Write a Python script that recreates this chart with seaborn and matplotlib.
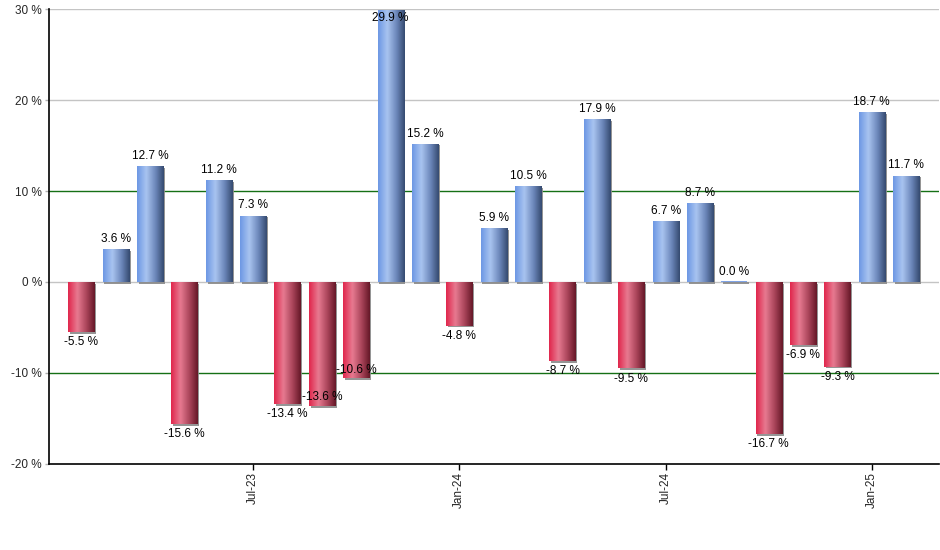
import numpy as np
import pandas as pd
import matplotlib
matplotlib.use("Agg")
import matplotlib.pyplot as plt
import matplotlib.patheffects as pe
from matplotlib.colors import LinearSegmentedColormap
import seaborn as sns

months = ["Feb-23", "Mar-23", "Apr-23", "May-23", "Jun-23", "Jul-23", "Aug-23", "Sep-23",
          "Oct-23", "Nov-23", "Dec-23", "Jan-24", "Feb-24", "Mar-24", "Apr-24", "May-24",
          "Jun-24", "Jul-24", "Aug-24", "Sep-24", "Oct-24", "Nov-24", "Dec-24", "Jan-25",
          "Feb-25"]
returns = [-5.5, 3.6, 12.7, -15.6, 11.2, 7.3, -13.4, -13.6, -10.6, 29.9, 15.2, -4.8,
           5.9, 10.5, -8.7, 17.9, -9.5, 6.7, 8.7, 0.0, -16.7, -6.9, -9.3, 18.7, 11.7]
tick_labels = ["Jul-23", "Jan-24", "Jul-24", "Jan-25"]
y_ticks = [-20, -10, 0, 10, 20, 30]

df = pd.DataFrame({"month": months, "ret": returns})
df["sign"] = np.where(df["ret"] >= 0, "pos", "neg")

sns.set_theme(style="white")
plt.rcParams["font.family"] = ["Liberation Sans", "DejaVu Sans"]

fig = plt.figure(figsize=(9.4, 5.5), dpi=100)
ax = fig.add_axes([0.0521, 0.1564, 0.947, 0.8272])

sns.barplot(data=df, x="month", y="ret", hue="sign", dodge=False, width=0.76,
            palette={"pos": "#7fa3e6", "neg": "#d8405e"}, legend=False, ax=ax,
            order=months, saturation=1, zorder=3, linewidth=0, edgecolor="none")

blue_cmap = LinearSegmentedColormap.from_list(
    "b", [(0.0, "#6c97e4"), (0.35, "#a9c4f0"), (0.7, "#6a85b8"), (1.0, "#34496e")])
red_cmap = LinearSegmentedColormap.from_list(
    "r", [(0.0, "#e0254b"), (0.35, "#e77a91"), (0.7, "#a84358"), (1.0, "#641727")])
grad = np.linspace(0, 1, 256).reshape(1, -1)

shadow = [pe.SimplePatchShadow(offset=(1.3, -1.3), shadow_rgbFace="#8a8a8a", alpha=0.9),
          pe.Normal()]

for patch in ax.patches:
    h = patch.get_height()
    x0 = patch.get_x()
    w = patch.get_width()
    y0 = patch.get_y()
    if w == 0:
        continue
    patch.set_linewidth(0)
    patch.set_path_effects(shadow)
    if abs(h) < 1e-9:
        patch.set_height(0.15)
        patch.set_facecolor("#7fa3e6")
        continue
    cmap = red_cmap if h < 0 else blue_cmap
    ylo, yhi = min(y0, y0 + h), max(y0, y0 + h)
    im = ax.imshow(grad, cmap=cmap, aspect="auto", extent=(x0, x0 + w, ylo, yhi),
                   zorder=4, interpolation="bicubic")
    im.set_clip_path(patch)

# value labels
for i, v in enumerate(returns):
    txt = f"{v:.1f} %"
    dy, va, yv = 3, "bottom", v
    if v < 0:
        dy, va = -3, "top"
    if v >= 29.5:
        yv, dy, va = 30, -2, "top"
    if i in (7, 8):
        dy, va = 6, "center"
    ax.annotate(txt, xy=(i, yv), xytext=(0, dy), textcoords="offset points",
                ha="center", va=va, fontsize=8.5, color="black", zorder=6)

ax.set_ylim(-20, 30)
ax.set_xlim(-0.94, 24.96)
ax.set_yticks(y_ticks)
ax.set_yticklabels([f"{t} %" for t in y_ticks])
tick_pos = [months.index(t) for t in tick_labels]
ax.set_xticks(tick_pos)
ax.set_xticklabels(tick_labels, rotation=90)
ax.set_xlabel("")
ax.set_ylabel("")

for t in [0, 20, 30]:
    ax.axhline(t, color="#c4c4c4", lw=1, zorder=2)
for t in [10, -10]:
    ax.axhline(t, color="#157015", lw=1, zorder=2)

for s in ["top", "right"]:
    ax.spines[s].set_visible(False)
for s in ["left", "bottom"]:
    ax.spines[s].set_color("black")
    ax.spines[s].set_linewidth(1.2)
    ax.spines[s].set_zorder(7)

ax.tick_params(axis="x", length=4, width=1, color="black", labelsize=8.5, pad=2, bottom=True)
ax.tick_params(axis="y", length=3, width=1, color="#b0b0b0", labelsize=8.5, pad=2, left=True)
ax.grid(False)

fig.savefig("out.png", dpi=100)
